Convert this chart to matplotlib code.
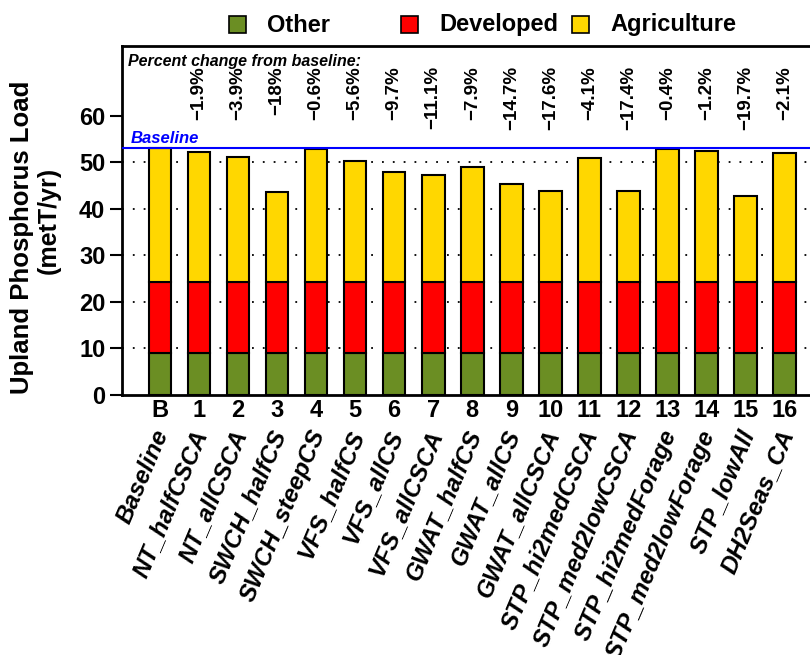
import matplotlib
matplotlib.use("Agg")
import matplotlib.pyplot as plt
from matplotlib.patches import Rectangle
import matplotlib.transforms as mtransforms

plt.rcParams['font.family'] = ['Liberation Sans', 'DejaVu Sans']

codes = ["B", "1", "2", "3", "4", "5", "6", "7", "8", "9", "10", "11", "12", "13", "14", "15", "16"]
scenarios = ["Baseline", "NT_halfCSCA", "NT_allCSCA", "SWCH_halfCS", "SWCH_steepCS", "VFS_halfCS",
             "VFS_allCS", "VFS_allCSCA", "GWAT_halfCS", "GWAT_allCS", "GWAT_allCSCA",
             "STP_hi2medCSCA", "STP_med2lowCSCA", "STP_hi2medForage", "STP_med2lowForage",
             "STP_lowAll", "DH2Seas_CA"]
other = [9.0] * 17
developed = [15.3] * 17
agriculture = [28.8, 27.9, 26.8, 19.4, 28.5, 25.9, 23.7, 23.0, 24.7, 21.1, 19.5, 26.7, 19.6,
               28.6, 28.2, 18.4, 27.8]
pct_change = ["", "\u22121.9%", "\u22123.9%", "\u221218%", "\u22120.6%", "\u22125.6%", "\u22129.7%",
              "\u221211.1%", "\u22127.9%", "\u221214.7%", "\u221217.6%", "\u22124.1%", "\u221217.4%",
              "\u22120.4%", "\u22121.2%", "\u221219.7%", "\u22122.1%"]
baseline_total = 53.1
grid_levels = [10, 20, 30, 40, 50]

fig = plt.figure(figsize=(8.1, 6.55), dpi=100)
ax = fig.add_axes([122 / 810, 260 / 655, 690 / 810, 349 / 655])

x = list(range(len(codes)))
bot2 = [o + d for o, d in zip(other, developed)]
for lv in grid_levels:
    ax.axhline(lv, color="black", lw=1.3, ls=(0, (1, 5)), zorder=0)
ax.bar(x, other, width=0.58, color="#6b8e23", edgecolor="black", lw=1.5, zorder=2)
ax.bar(x, developed, width=0.58, bottom=other, color="#ff0000", edgecolor="black", lw=1.5, zorder=2)
ax.bar(x, agriculture, width=0.58, bottom=bot2, color="#ffd700", edgecolor="black", lw=1.5, zorder=2)
ax.axhline(baseline_total, color="#0000ff", lw=1.5, zorder=3)

ax.set_xlim(-0.97, 16.7)
ax.set_ylim(0, 75)
ax.set_yticks([0, 10, 20, 30, 40, 50, 60])
ax.tick_params(axis="y", length=9, width=1.5, labelsize=17, pad=3)
ax.tick_params(axis="x", length=0, labelsize=17, pad=3)
ax.set_xticks(x)
ax.set_xticklabels(codes, fontweight="bold")
for lab in ax.get_yticklabels():
    lab.set_fontweight("bold")
for s in ["left", "bottom", "top"]:
    ax.spines[s].set_linewidth(2)
ax.spines["right"].set_visible(False)

# y axis title, two lines placed like the original
fig.text(22 / 810, 1 - 237 / 655, "Upland Phosphorus Load", rotation=90, fontsize=18.5,
         fontweight="bold", ha="center", va="center")
fig.text(49 / 810, 1 - 220 / 655, "(metT/yr)", rotation=90, fontsize=18,
         fontweight="bold", ha="center", va="center")

trans = mtransforms.blended_transform_factory(ax.transData, ax.transAxes)
for i, name in enumerate(scenarios):
    ax.text(i - 0.2, -0.09, name, transform=trans, rotation=67, rotation_mode="anchor",
            ha="right", va="top", fontsize=17.5, fontweight="bold", fontstyle="italic")
for i, p in enumerate(pct_change):
    ax.text(i, 70.7, p, rotation=90, ha="center", va="top", fontsize=13.5, fontweight="bold")

ax.text(0.009, 0.955, "Percent change from baseline:", transform=ax.transAxes, fontsize=11.5,
        fontweight="bold", fontstyle="italic", va="center")
trans2 = mtransforms.blended_transform_factory(ax.transAxes, ax.transData)
ax.text(0.012, baseline_total + 0.4, "Baseline", transform=trans2, color="#0000ff", fontsize=12,
        fontweight="bold", fontstyle="italic", va="bottom")

# legend along the top
leg_items = [("Other", "#6b8e23", 229), ("Developed", "#ff0000", 401), ("Agriculture", "#ffd700", 572)]
for lab, col, px in leg_items:
    fig.add_artist(Rectangle((px / 810, 1 - 33 / 655), 17 / 810, 17 / 655, facecolor=col,
                             edgecolor="black", lw=1.2, transform=fig.transFigure))
    fig.text((px + 38) / 810, 1 - 25 / 655, lab, fontsize=17, fontweight="bold", va="center")

fig.savefig("out.png", dpi=100)
